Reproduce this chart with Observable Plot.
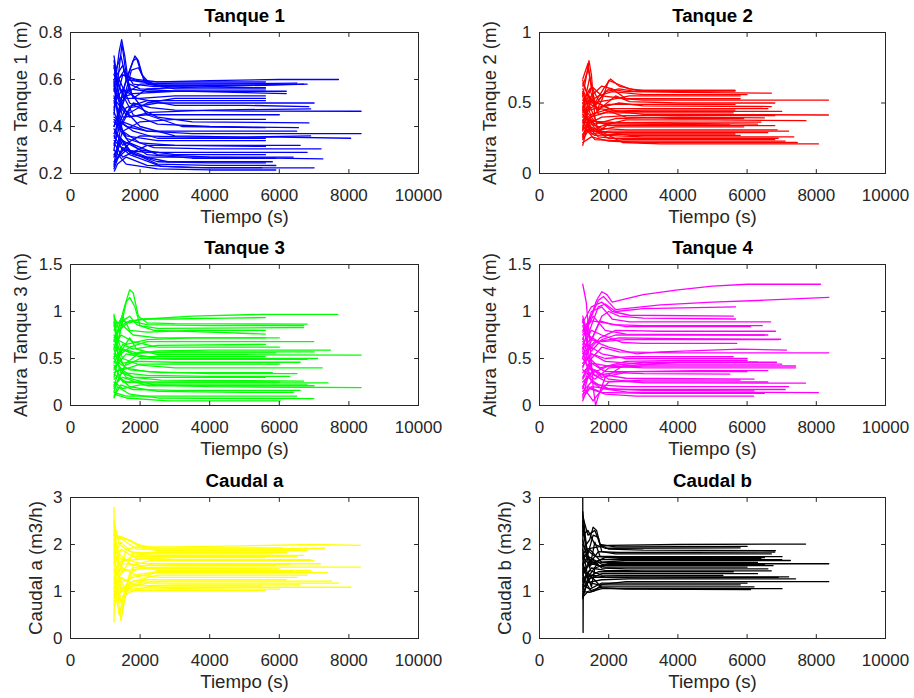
<!DOCTYPE html>
<html><head><meta charset="utf-8">
<script src="https://cdn.jsdelivr.net/npm/d3@7"></script>
<script src="https://cdn.jsdelivr.net/npm/@observablehq/plot@0.6"></script>
<style>
body{margin:0;background:#fff;}
#fig{position:relative;width:914px;height:698px;background:#fff;overflow:hidden;}
</style></head><body><div id="fig"></div>
<script>
// ---------- tick values ----------
const timeTicks = [0, 2000, 4000, 6000, 8000, 10000];
const tanque1Ticks = [0.2, 0.4, 0.6, 0.8];
const tanque2Ticks = [0, 0.5, 1];
const tanque34Ticks = [0, 0.5, 1, 1.5];
const caudalTicks = [0, 1, 2, 3];

// ---------- runs: [time (s), value] ----------
const tanque1Runs = [
  [[1250,0.70],[1350,0.60],[1500,0.62],[1900,0.60],[2500,0.59],[4000,0.595],[6000,0.60],[7700,0.60]],
  [[1250,0.55],[1400,0.72],[1470,0.77],[1560,0.70],[1700,0.55],[2000,0.58],[3000,0.585],[5600,0.585]],
  [[1250,0.45],[1400,0.65],[1480,0.75],[1600,0.62],[1800,0.52],[2200,0.56],[4000,0.57],[6800,0.58]],
  [[1260,0.35],[1500,0.55],[1800,0.68],[1900,0.69],[2050,0.62],[2300,0.58],[4000,0.58],[6500,0.585]],
  [[1250,0.60],[1350,0.45],[1600,0.60],[1850,0.70],[1950,0.68],[2100,0.60],[2600,0.57],[5600,0.565]],
  [[1250,0.40],[1500,0.50],[1750,0.64],[1950,0.65],[2200,0.58],[3000,0.56],[5600,0.56]],
  [[1260,0.62],[1450,0.50],[1700,0.56],[2200,0.55],[3500,0.55],[6200,0.54]],
  [[1250,0.30],[1400,0.45],[1700,0.58],[2000,0.56],[3000,0.55],[5600,0.55]],
  [[1250,0.58],[1400,0.40],[1700,0.48],[2500,0.50],[4000,0.50],[7000,0.50]],
  [[1250,0.50],[1500,0.56],[1900,0.52],[3000,0.49],[5000,0.49],[6850,0.485]],
  [[1260,0.25],[1450,0.40],[1800,0.50],[2300,0.48],[3000,0.47],[5000,0.465],[8350,0.465]],
  [[1250,0.52],[1600,0.45],[2200,0.50],[3000,0.52],[5600,0.52]],
  [[1250,0.48],[1400,0.60],[1700,0.50],[2500,0.44],[3500,0.42],[6850,0.415]],
  [[1250,0.65],[1450,0.55],[1800,0.45],[2500,0.41],[4000,0.40],[6550,0.395]],
  [[1250,0.44],[1600,0.40],[2200,0.38],[3500,0.37],[6000,0.37],[8350,0.37]],
  [[1270,0.38],[1500,0.32],[2000,0.36],[3500,0.355],[6000,0.355],[8050,0.35]],
  [[1250,0.56],[1500,0.48],[2000,0.40],[3000,0.36],[5000,0.355],[6900,0.36]],
  [[1250,0.32],[1450,0.42],[1800,0.38],[2500,0.35],[5600,0.35]],
  [[1250,0.46],[1600,0.35],[2400,0.31],[4000,0.305],[7200,0.305]],
  [[1250,0.36],[1500,0.30],[2200,0.29],[4000,0.29],[6800,0.29]],
  [[1250,0.28],[1500,0.34],[2000,0.30],[3000,0.28],[5600,0.28]],
  [[1250,0.42],[1700,0.33],[2500,0.28],[4000,0.27],[7250,0.262]],
  [[1250,0.22],[1400,0.28],[1700,0.33],[2200,0.28],[3500,0.265],[5900,0.265]],
  [[1250,0.25],[1600,0.30],[2500,0.24],[4000,0.235],[5900,0.234]],
  [[1250,0.34],[1700,0.28],[2600,0.23],[4000,0.224],[7000,0.224]],
  [[1260,0.21],[1350,0.24],[1600,0.27],[2200,0.235],[3500,0.225],[5500,0.225]],
  [[1250,0.60],[1500,0.66],[1700,0.55],[2200,0.45],[3200,0.40],[5600,0.395]],
  [[1250,0.68],[1350,0.58],[1600,0.52],[2000,0.52],[3000,0.53],[5600,0.53]],
  [[1250,0.40],[1450,0.50],[1700,0.44],[2300,0.46],[4000,0.47],[6900,0.475]],
  [[1250,0.53],[1500,0.38],[2000,0.33],[3000,0.32],[5600,0.315]],
  [[1250,0.30],[1600,0.24],[2500,0.22],[4000,0.215],[5900,0.215]],
  [[1250,0.57],[1550,0.64],[1800,0.58],[2400,0.57],[4000,0.575],[6700,0.58]],
  [[1250,0.62],[1450,0.70],[1600,0.60],[2000,0.59],[3000,0.59],[5600,0.59]],
  [[1250,0.47],[1500,0.62],[1800,0.60],[2500,0.575],[5600,0.575]],
  [[1250,0.66],[1400,0.52],[1800,0.54],[3000,0.55],[6200,0.55]],
  [[1250,0.37],[1600,0.48],[2200,0.51],[3500,0.51],[5600,0.51]],
  [[1250,0.59],[1500,0.44],[2200,0.45],[4000,0.45],[6000,0.45]],
  [[1250,0.27],[1500,0.38],[2000,0.42],[3000,0.43],[5600,0.43]],
  [[1250,0.51],[1500,0.42],[2200,0.38],[4000,0.38],[6500,0.38]],
  [[1250,0.43],[1600,0.36],[2500,0.34],[4000,0.34],[5600,0.34]],
  [[1250,0.33],[1500,0.27],[2200,0.32],[4000,0.32],[6600,0.32]],
  [[1250,0.24],[1500,0.31],[2200,0.27],[4000,0.27],[6400,0.27]],
  [[1250,0.39],[1700,0.29],[2500,0.25],[4000,0.245],[5600,0.245]],
  [[1250,0.23],[1450,0.35],[1800,0.28],[2800,0.25],[5800,0.25]]
];

const tanque2Runs = [
  [[1250,0.62],[1380,0.72],[1430,0.80],[1500,0.70],[1600,0.40],[1700,0.30],[2000,0.35],[2500,0.38],[5000,0.38],[7700,0.375]],
  [[1250,0.55],[1400,0.75],[1500,0.62],[1650,0.45],[1800,0.52],[2000,0.66],[2200,0.64],[2600,0.60],[3000,0.59],[5650,0.59]],
  [[1250,0.45],[1450,0.68],[1600,0.50],[1850,0.60],[2050,0.67],[2300,0.62],[2800,0.59],[5650,0.59]],
  [[1250,0.66],[1400,0.55],[1600,0.48],[1900,0.58],[2300,0.60],[2800,0.58],[4000,0.575],[6700,0.57]],
  [[1250,0.40],[1500,0.55],[1800,0.62],[2100,0.60],[2500,0.53],[3000,0.52],[8350,0.52]],
  [[1260,0.35],[1450,0.55],[1700,0.45],[2200,0.55],[2600,0.51],[4000,0.50],[6800,0.50]],
  [[1250,0.58],[1500,0.40],[1800,0.47],[2300,0.50],[3000,0.48],[6700,0.475]],
  [[1250,0.50],[1450,0.60],[1700,0.42],[2000,0.44],[3000,0.45],[5650,0.45]],
  [[1250,0.30],[1400,0.45],[1700,0.50],[2200,0.44],[3000,0.42],[8350,0.415]],
  [[1250,0.48],[1400,0.35],[1800,0.40],[2500,0.41],[6800,0.41]],
  [[1250,0.25],[1500,0.42],[1900,0.45],[2500,0.40],[4000,0.39],[5900,0.39]],
  [[1250,0.55],[1450,0.30],[1700,0.33],[2200,0.36],[4000,0.365],[6400,0.365]],
  [[1250,0.38],[1600,0.30],[2200,0.33],[3000,0.33],[5900,0.33]],
  [[1250,0.20],[1350,0.30],[1500,0.35],[1800,0.32],[2500,0.31],[4000,0.31],[6870,0.31]],
  [[1250,0.42],[1500,0.28],[2000,0.30],[3000,0.30],[7200,0.30]],
  [[1250,0.33],[1600,0.27],[2500,0.28],[5000,0.28],[5650,0.28]],
  [[1250,0.28],[1500,0.33],[1900,0.27],[3000,0.26],[7350,0.26]],
  [[1250,0.36],[1700,0.26],[2500,0.24],[4000,0.24],[6800,0.24]],
  [[1250,0.22],[1500,0.26],[2000,0.23],[3000,0.22],[7450,0.22]],
  [[1260,0.44],[1600,0.32],[2400,0.22],[3500,0.21],[8060,0.21]],
  [[1250,0.52],[1700,0.46],[2400,0.44],[4000,0.44],[7000,0.44]],
  [[1250,0.64],[1500,0.50],[2000,0.52],[2600,0.55],[4000,0.55],[5800,0.55]],
  [[1250,0.47],[1600,0.37],[2300,0.36],[4000,0.355],[6300,0.35]],
  [[1250,0.27],[1450,0.38],[1800,0.30],[2600,0.27],[5800,0.27]],
  [[1250,0.60],[1400,0.50],[1700,0.55],[2100,0.58],[3000,0.56],[6000,0.56]],
  [[1250,0.32],[1450,0.48],[1650,0.36],[2200,0.35],[5500,0.345]],
  [[1250,0.67],[1400,0.78],[1500,0.62],[1700,0.52],[2000,0.60],[2500,0.58],[5650,0.585]],
  [[1250,0.43],[1500,0.62],[1800,0.55],[2500,0.53],[5800,0.53]],
  [[1250,0.57],[1450,0.45],[2000,0.49],[3000,0.49],[5650,0.49]],
  [[1250,0.37],[1500,0.52],[2000,0.46],[3000,0.46],[6600,0.46]],
  [[1250,0.26],[1450,0.40],[1900,0.43],[3000,0.43],[5600,0.43]],
  [[1250,0.45],[1600,0.35],[2200,0.39],[4000,0.40],[6500,0.395]],
  [[1250,0.31],[1500,0.38],[2000,0.34],[3000,0.34],[6800,0.34]],
  [[1250,0.50],[1500,0.30],[2000,0.29],[4000,0.29],[6600,0.29]],
  [[1250,0.24],[1450,0.32],[2000,0.25],[3000,0.25],[6900,0.25]],
  [[1250,0.34],[1600,0.24],[2500,0.23],[4000,0.23],[7100,0.23]]
];

const tanque3Runs = [
  [[1250,0.95],[1400,0.80],[1700,0.90],[2200,0.92],[3500,0.95],[5500,0.97],[7680,0.97]],
  [[1250,0.60],[1400,0.85],[1550,1.05],[1700,1.23],[1800,1.20],[1950,0.95],[2200,0.88],[3000,0.87],[6800,0.865]],
  [[1250,0.50],[1400,0.75],[1600,1.10],[1700,1.15],[1850,1.05],[2000,0.85],[2500,0.82],[6700,0.83]],
  [[1250,0.90],[1350,0.65],[1500,0.90],[1700,0.95],[1900,0.86],[2400,0.80],[4000,0.78],[5600,0.76]],
  [[1250,0.80],[1500,0.95],[1700,0.80],[2200,0.78],[3500,0.80],[5600,0.80]],
  [[1250,0.70],[1450,0.55],[1700,0.62],[2200,0.68],[4000,0.68],[6990,0.68]],
  [[1250,0.45],[1500,0.65],[1800,0.60],[2500,0.64],[5600,0.65]],
  [[1250,0.85],[1450,0.60],[1800,0.55],[2500,0.58],[4000,0.59],[7470,0.59]],
  [[1250,0.30],[1400,0.55],[1700,0.72],[1900,0.60],[2500,0.54],[5000,0.54],[8350,0.535]],
  [[1250,0.55],[1550,0.42],[2000,0.50],[3000,0.49],[6800,0.49]],
  [[1250,0.65],[1500,0.45],[1900,0.47],[3000,0.46],[6600,0.46]],
  [[1250,0.40],[1600,0.55],[2000,0.52],[3000,0.52],[5600,0.52]],
  [[1250,0.75],[1500,0.50],[2000,0.43],[3000,0.40],[7230,0.40]],
  [[1250,0.35],[1550,0.40],[2200,0.36],[4000,0.34],[6510,0.34]],
  [[1250,0.20],[1400,0.40],[1800,0.30],[2600,0.27],[6700,0.26]],
  [[1250,0.50],[1600,0.30],[2400,0.22],[4000,0.20],[8350,0.19]],
  [[1250,0.25],[1500,0.18],[2000,0.22],[3500,0.22],[6800,0.22]],
  [[1250,0.15],[1400,0.30],[1700,0.20],[2500,0.15],[5000,0.14],[6400,0.14]],
  [[1250,0.08],[1350,0.20],[1700,0.12],[2500,0.08],[4000,0.075],[6990,0.074]],
  [[1260,0.12],[1600,0.08],[2800,0.05],[6030,0.05]],
  [[1250,0.60],[1450,0.35],[1800,0.30],[2600,0.30],[5600,0.30]],
  [[1250,0.97],[1350,0.70],[1600,0.65],[2200,0.70],[3500,0.72],[6000,0.72]],
  [[1250,0.43],[1500,0.25],[2000,0.25],[3500,0.25],[6000,0.25]],
  [[1250,0.88],[1400,0.45],[1700,0.38],[2600,0.35],[5800,0.35]],
  [[1250,0.18],[1600,0.45],[2000,0.57],[2600,0.56],[5900,0.56]],
  [[1250,0.68],[1450,0.90],[1700,0.88],[2000,0.92],[3000,0.92],[4500,0.93],[5600,0.935]],
  [[1250,0.92],[1450,0.85],[1700,0.90],[2200,0.86],[4000,0.85],[6700,0.85]],
  [[1250,0.72],[1500,0.85],[1800,0.75],[2500,0.72],[5600,0.72]],
  [[1250,0.62],[1450,0.75],[1800,0.68],[2500,0.62],[6000,0.62]],
  [[1250,0.52],[1500,0.60],[1900,0.56],[3000,0.57],[7000,0.57]],
  [[1250,0.38],[1500,0.60],[1800,0.55],[2500,0.50],[7100,0.50]],
  [[1250,0.47],[1500,0.38],[2000,0.44],[3000,0.44],[6000,0.44]],
  [[1250,0.28],[1500,0.35],[2200,0.32],[4000,0.31],[6300,0.31]],
  [[1250,0.33],[1600,0.25],[2200,0.24],[4000,0.24],[7400,0.24]],
  [[1250,0.22],[1500,0.30],[2200,0.21],[4000,0.21],[7000,0.21]],
  [[1250,0.10],[1450,0.22],[1800,0.17],[3000,0.16],[6600,0.16]],
  [[1250,0.14],[1600,0.10],[2500,0.10],[4000,0.10],[6500,0.10]]
];

const tanque4Runs = [
  [[1250,1.29],[1350,1.10],[1450,0.70],[1550,0.20],[1620,0.00],[1700,0.10],[1900,0.30],[2400,0.42],[4000,0.46],[6300,0.46]],
  [[1250,0.60],[1450,0.90],[1650,1.12],[1800,1.21],[1950,1.18],[2100,1.10],[3000,1.18],[4000,1.23],[5000,1.27],[6000,1.29],[8120,1.29]],
  [[1250,0.80],[1500,0.95],[1700,1.12],[1850,1.16],[2000,1.10],[2200,1.02],[3500,1.07],[5000,1.10],[6500,1.12],[8360,1.15]],
  [[1250,0.50],[1450,0.80],[1700,1.05],[1900,1.08],[2200,1.00],[3000,1.03],[5665,1.05]],
  [[1250,0.90],[1500,0.70],[1800,0.95],[2000,1.00],[2300,0.95],[3000,0.93],[5665,0.92]],
  [[1250,0.70],[1500,1.00],[1800,1.05],[2100,0.92],[2600,0.89],[6680,0.89]],
  [[1250,0.40],[1450,0.65],[1750,0.90],[2100,0.86],[3000,0.85],[6440,0.85]],
  [[1250,0.85],[1450,0.60],[1750,0.72],[2200,0.80],[3500,0.79],[6820,0.79]],
  [[1250,0.75],[1550,0.95],[1900,0.80],[2500,0.76],[6500,0.75]],
  [[1250,0.95],[1400,0.75],[1700,0.68],[2300,0.72],[4000,0.71],[6970,0.705]],
  [[1250,0.65],[1500,0.80],[1800,0.75],[2400,0.67],[3000,0.66],[5700,0.66]],
  [[1250,0.55],[1600,0.68],[2000,0.62],[2800,0.55],[3500,0.57],[5800,0.60],[7140,0.59]],
  [[1250,0.30],[1500,0.50],[1800,0.62],[2300,0.57],[4000,0.56],[8360,0.56]],
  [[1250,0.45],[1500,0.55],[1900,0.50],[2600,0.52],[5600,0.52]],
  [[1250,0.62],[1550,0.35],[2000,0.42],[3000,0.46],[6850,0.46]],
  [[1250,0.35],[1500,0.45],[2000,0.42],[3000,0.40],[7400,0.40]],
  [[1250,0.50],[1600,0.32],[2200,0.35],[3000,0.34],[5500,0.333]],
  [[1250,0.20],[1450,0.40],[1800,0.33],[2500,0.29],[6200,0.28]],
  [[1250,0.25],[1600,0.38],[2000,0.28],[3000,0.24],[7690,0.237]],
  [[1250,0.10],[1400,0.30],[1700,0.22],[2500,0.20],[7200,0.20]],
  [[1250,0.15],[1500,0.25],[2000,0.18],[3000,0.16],[6200,0.156]],
  [[1250,0.58],[1500,0.25],[1800,0.18],[2600,0.14],[8060,0.138]],
  [[1250,0.08],[1450,0.18],[1900,0.12],[2800,0.10],[6190,0.10]],
  [[1250,0.92],[1450,0.50],[1750,0.40],[2500,0.47],[4000,0.48],[6000,0.48]],
  [[1260,0.72],[1500,0.40],[1800,0.30],[2600,0.36],[4500,0.37],[6600,0.37]],
  [[1250,0.20],[1550,0.05],[1650,0.10],[2000,0.25],[3000,0.27],[5800,0.27]],
  [[1250,0.88],[1500,1.05],[1800,1.10],[2100,1.00],[2600,0.96],[5600,0.95]],
  [[1250,0.78],[1500,0.90],[1900,0.88],[2500,0.84],[6100,0.84]],
  [[1250,0.68],[1500,0.58],[1800,0.70],[2200,0.75],[3500,0.75],[6600,0.75]],
  [[1250,0.60],[1450,0.70],[1800,0.68],[2500,0.70],[6900,0.70]],
  [[1250,0.52],[1500,0.62],[1800,0.55],[2500,0.50],[6000,0.50]],
  [[1250,0.42],[1500,0.55],[1900,0.47],[3000,0.44],[7000,0.44]],
  [[1250,0.38],[1600,0.28],[2000,0.40],[3000,0.42],[7400,0.42]],
  [[1250,0.28],[1500,0.45],[1900,0.36],[3000,0.36],[6000,0.36]],
  [[1250,0.18],[1450,0.35],[1900,0.26],[3000,0.25],[6600,0.25]],
  [[1250,0.12],[1500,0.20],[2200,0.17],[4000,0.17],[7100,0.17]],
  [[1250,0.05],[1400,0.20],[1800,0.14],[3000,0.13],[6500,0.13]]
];

const caudalARuns = [
  [[1250,2.79],[1260,1.60],[1300,2.20],[1500,2.15],[1800,2.05],[2100,1.95],[3000,1.95],[5000,1.97],[7000,2.00],[8330,1.98]],
  [[1250,0.35],[1270,1.40],[1350,1.00],[1450,0.38],[1550,0.80],[1700,1.40],[2000,1.50],[3000,1.52],[8330,1.52]],
  [[1250,2.50],[1350,2.15],[1700,2.10],[2000,1.95],[2500,1.90],[4000,1.90],[7300,1.92]],
  [[1250,2.00],[1400,1.40],[1600,1.90],[1900,1.95],[2500,1.87],[6800,1.87]],
  [[1250,1.80],[1450,2.05],[1800,1.80],[2400,1.77],[6700,1.77]],
  [[1250,1.50],[1500,0.60],[1600,1.10],[1800,1.55],[2300,1.66],[6990,1.66]],
  [[1250,1.20],[1400,0.50],[1550,1.00],[1800,1.50],[2400,1.59],[7180,1.59]],
  [[1250,2.20],[1400,1.80],[1700,1.60],[2500,1.45],[6900,1.45]],
  [[1250,1.70],[1450,1.20],[1800,1.30],[2500,1.40],[7380,1.40]],
  [[1250,1.00],[1500,1.50],[1900,1.35],[2600,1.30],[6500,1.30]],
  [[1250,1.30],[1450,0.80],[1700,1.10],[2200,1.18],[7700,1.18]],
  [[1250,0.90],[1450,1.30],[1800,1.15],[2600,1.09],[8050,1.09]],
  [[1250,1.60],[1500,1.00],[1800,1.02],[2800,1.02],[5600,1.02]],
  [[1250,1.90],[1500,1.65],[2200,1.70],[3000,1.72],[5600,1.72]],
  [[1250,1.40],[1500,1.70],[2000,1.60],[3000,1.58],[6300,1.58]],
  [[1250,1.10],[1500,0.70],[1700,1.20],[2200,1.25],[6200,1.25]],
  [[1250,2.40],[1400,2.00],[1700,1.85],[2300,1.80],[5800,1.80]],
  [[1250,1.75],[1550,1.45],[2000,1.48],[3000,1.50],[6000,1.48]],
  [[1250,0.80],[1400,1.10],[1800,1.05],[2500,1.12],[5500,1.12]],
  [[1250,2.10],[1500,2.15],[1900,2.00],[2400,1.93],[4000,1.93],[6100,1.93]],
  [[1250,2.20],[1500,2.10],[1900,1.90],[3000,1.90],[6600,1.90]],
  [[1250,1.85],[1500,1.40],[1800,1.82],[2500,1.83],[6200,1.83]],
  [[1250,1.55],[1450,1.90],[1900,1.70],[3000,1.68],[6900,1.68]],
  [[1250,1.25],[1500,1.60],[2000,1.55],[3000,1.55],[5900,1.55]],
  [[1250,1.65],[1450,1.00],[1800,1.35],[2500,1.42],[6400,1.42]],
  [[1250,0.70],[1450,1.00],[1800,1.22],[2500,1.35],[6800,1.35]],
  [[1250,1.45],[1550,1.10],[2000,1.20],[3000,1.22],[7500,1.22]],
  [[1250,1.05],[1400,1.30],[1900,1.12],[3000,1.14],[6600,1.14]],
  [[1250,0.95],[1500,0.90],[1900,1.05],[3000,1.06],[6000,1.05]],
  [[1250,2.30],[1400,1.60],[1800,1.75],[2800,1.75],[6500,1.75]]
];

const caudalBRuns = [
  [[1250,2.99],[1260,0.13],[1270,1.80],[1350,1.90],[1700,1.95],[2000,1.98],[4000,2.00],[7690,2.01]],
  [[1250,2.70],[1350,2.00],[1450,2.10],[1550,2.37],[1650,2.30],[1750,2.00],[2000,1.90],[3000,1.88],[6820,1.87]],
  [[1250,2.40],[1400,1.80],[1550,2.20],[1700,2.15],[1800,1.85],[2200,1.80],[6700,1.80]],
  [[1250,2.10],[1450,1.50],[1600,2.05],[1750,1.75],[2300,1.74],[7010,1.74]],
  [[1250,1.90],[1400,1.30],[1700,1.62],[2500,1.66],[7250,1.66]],
  [[1250,1.60],[1500,1.10],[1600,1.50],[2000,1.60],[3000,1.59],[8360,1.59]],
  [[1250,1.80],[1400,1.70],[1700,1.55],[2500,1.55],[6750,1.55]],
  [[1250,1.40],[1500,1.70],[1800,1.50],[2500,1.48],[6600,1.48]],
  [[1250,1.20],[1450,1.45],[1800,1.35],[2800,1.34],[5300,1.34]],
  [[1250,1.00],[1450,0.98],[1600,1.02],[1800,1.15],[2500,1.21],[8360,1.21]],
  [[1250,1.50],[1450,1.20],[1800,1.25],[2600,1.27],[7400,1.27]],
  [[1250,0.90],[1400,1.20],[1700,1.14],[2600,1.14],[5800,1.14]],
  [[1250,1.30],[1500,1.00],[1800,1.06],[2800,1.06],[7010,1.06]],
  [[1250,1.10],[1400,1.40],[1800,1.08],[2500,1.05],[6100,1.04]],
  [[1250,2.50],[1350,1.90],[1600,1.75],[2400,1.70],[6400,1.70]],
  [[1250,1.70],[1450,1.90],[1800,1.62],[2400,1.62],[6300,1.62]],
  [[1250,2.20],[1400,2.30],[1600,2.00],[1900,1.92],[5800,1.93]],
  [[1250,0.85],[1400,1.30],[1700,1.42],[2500,1.42],[5600,1.42]],
  [[1250,1.45],[1500,1.30],[1900,1.30],[3000,1.29],[6900,1.30]],
  [[1250,2.00],[1500,1.60],[1900,1.72],[3000,1.72],[6500,1.72]],
  [[1250,2.60],[1400,2.20],[1600,2.30],[1750,2.00],[2200,1.95],[6000,1.96]],
  [[1250,2.30],[1450,1.60],[1700,1.85],[2300,1.83],[6800,1.84]],
  [[1250,1.75],[1450,1.55],[1800,1.68],[3000,1.68],[7000,1.68]],
  [[1250,1.55],[1400,1.75],[1800,1.58],[2600,1.57],[6500,1.57]],
  [[1250,1.35],[1450,1.60],[1900,1.52],[3000,1.52],[6000,1.52]],
  [[1250,1.25],[1500,1.50],[1900,1.45],[3000,1.44],[6700,1.44]],
  [[1250,1.05],[1400,1.25],[1800,1.38],[2800,1.38],[6300,1.38]],
  [[1250,0.95],[1500,1.35],[1900,1.31],[3000,1.31],[7200,1.31]],
  [[1250,1.15],[1450,1.05],[1800,1.18],[3000,1.18],[6000,1.18]],
  [[1250,0.88],[1400,1.00],[1800,1.10],[3000,1.10],[6200,1.10]]
];

// ---------- panel descriptions ----------
const panels = [
  {title: "Tanque 1", ylabel: "Altura Tanque 1 (m)", yDomain: [0.2, 0.8], yTicks: tanque1Ticks, color: "#0000ff", runs: tanque1Runs, col: 0, row: 0},
  {title: "Tanque 2", ylabel: "Altura Tanque 2 (m)", yDomain: [0, 1], yTicks: tanque2Ticks, color: "#ff0000", runs: tanque2Runs, col: 1, row: 0},
  {title: "Tanque 3", ylabel: "Altura Tanque 3 (m)", yDomain: [0, 1.5], yTicks: tanque34Ticks, color: "#00ff00", runs: tanque3Runs, col: 0, row: 1},
  {title: "Tanque 4", ylabel: "Altura Tanque 4 (m)", yDomain: [0, 1.5], yTicks: tanque34Ticks, color: "#ff00ff", runs: tanque4Runs, col: 1, row: 1},
  {title: "Caudal a", ylabel: "Caudal a (m3/h)", yDomain: [0, 3], yTicks: caudalTicks, color: "#ffff00", runs: caudalARuns, col: 0, row: 2},
  {title: "Caudal b", ylabel: "Caudal b (m3/h)", yDomain: [0, 3], yTicks: caudalTicks, color: "#000000", runs: caudalBRuns, col: 1, row: 2}
];

const FONT = "'Liberation Sans', Arial, Helvetica, sans-serif";
const AX = "#262626";
const rowTops = [0, 232, 465];
const tickShape = {draw(ctx, l) { ctx.moveTo(0, 0); ctx.lineTo(0, -l); }};
const fmt = d => String(d);

const fig = document.getElementById("fig");
for (const p of panels) {
  const data = p.runs.flatMap((run, i) => run.map(([t, v]) => ({run: i, t, v})));
  const ml = p.col === 0 ? 70 : 82;
  const mr = p.col === 0 ? 39 : 29;
  const ylOff = p.yTicks === caudalTicks ? 29 : 44;
  const tickOpts = {length: 4, anchor: "start", shape: tickShape, stroke: AX, strokeWidth: 1};
  const chart = Plot.plot({
    width: 457, height: 232,
    marginTop: 32, marginBottom: 59, marginLeft: ml, marginRight: mr,
    x: {domain: [0, 10000]},
    y: {domain: p.yDomain},
    style: {fontFamily: FONT, background: "transparent", overflow: "visible"},
    marks: [
      Plot.line(data, {x: "t", y: "v", z: "run", stroke: p.color, strokeWidth: 1.3}),
      Plot.frame({stroke: AX, strokeWidth: 1}),
      Plot.axisX(timeTicks, {tickSize: 0, tickPadding: 15, tickFormat: fmt, fontSize: 17, color: AX, label: null}),
      Plot.axisY(p.yTicks, {tickSize: 0, tickPadding: 8, tickFormat: fmt, fontSize: 17, color: AX, label: null}),
      Plot.vector(timeTicks, {x: d => d, frameAnchor: "bottom", rotate: 0, ...tickOpts}),
      Plot.vector(timeTicks, {x: d => d, frameAnchor: "top", rotate: 180, ...tickOpts}),
      Plot.vector(p.yTicks, {y: d => d, frameAnchor: "left", rotate: 90, ...tickOpts}),
      Plot.vector(p.yTicks, {y: d => d, frameAnchor: "right", rotate: -90, ...tickOpts}),
      Plot.text([p.title], {text: d => d, frameAnchor: "top", dy: -11, lineAnchor: "bottom", fontWeight: "bold", fontSize: 18.7, fill: "#000"}),
      Plot.text(["Tiempo (s)"], {text: d => d, frameAnchor: "bottom", dy: 49, lineAnchor: "bottom", fontSize: 18.7, fill: AX}),
      Plot.text([p.ylabel], {text: d => d, frameAnchor: "left", dx: -ylOff, rotate: -90, textAnchor: "middle", lineAnchor: "bottom", fontSize: 18.7, fill: AX})
    ]
  });
  chart.style.position = "absolute";
  chart.style.left = (p.col === 0 ? 0 : 457) + "px";
  chart.style.top = rowTops[p.row] + "px";
  fig.appendChild(chart);
}
</script>
</body></html>
